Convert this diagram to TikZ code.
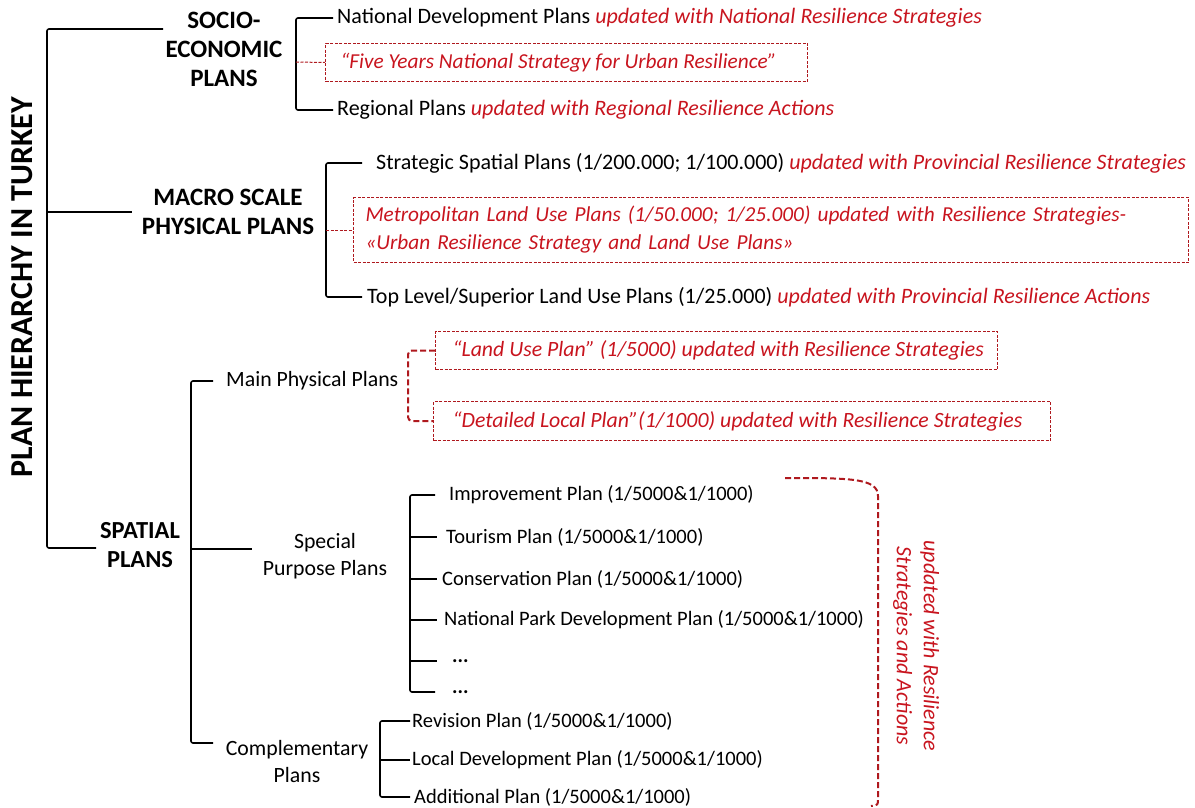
\documentclass[tikz,border=0pt]{standalone}
\usepackage{fontspec}
\setmainfont{Carlito}
\definecolor{rtext}{RGB}{200,20,30}
\definecolor{rline}{RGB}{175,25,30}
\newcommand{\ritx}[1]{{\color{rtext}\itshape #1}}
\begin{document}
\begin{tikzpicture}[x=1pt,y=-1pt,
  txt/.style={anchor=west,inner sep=0pt,font=\fontsize{20.5}{24}\selectfont},
  bigtxt/.style={txt,font=\fontsize{22}{26}\selectfont},
  head/.style={align=center,inner sep=0pt,font=\bfseries\fontsize{25}{29}\selectfont},
  sub/.style={align=center,inner sep=0pt,font=\fontsize{21.8}{27}\selectfont},
  tree/.style={line width=1.6pt,rounded corners=2pt},
  rdash/.style={rline,line width=1pt,dash pattern=on 3pt off 1.5pt},
  rthick/.style={rline,line width=2pt,dash pattern=on 6pt off 3pt,rounded corners=4pt},
  rbox/.style={draw=rline,line width=1pt,dash pattern=on 3pt off 1.5pt,anchor=north west,
    inner xsep=14pt,inner ysep=0pt,text=rtext,
    font=\itshape\fontsize{21.3}{28}\selectfont},
]
\useasboundingbox (0,0) rectangle (1195,808);

% title
\node[rotate=90,inner sep=0pt,font=\bfseries\fontsize{32}{36}\selectfont] (title) at (22,287) {PLAN HIERARCHY IN TURKEY};

% headings
\node[head] (soc) at (224,49) {SOCIO-\\ECONOMIC\\PLANS};
\node[head] (mac) at (228,212) {MACRO SCALE\\PHYSICAL PLANS};
\node[head,font=\bfseries\fontsize{24.5}{29}\selectfont] (spa) at (140,545) {SPATIAL\\PLANS};

% root tree
\coordinate (rt) at (163,29);
\coordinate (rm) at (47,212);
\coordinate (rb) at (96,548);
\coordinate (rmE) at (132,212);
\draw[tree] (rt) -| (rm) |- (rb);
\draw[tree] (rm) -- (rmE);

% socio-economic
\node[bigtxt] (nat) at (337,18) {National Development Plans \ritx{updated with National Resilience Strategies}};
\node[rbox,inner xsep=15pt,minimum height=38pt] (fy) at (325,43) {\makebox[452pt][l]{“Five Years National Strategy for Urban Resilience”}};
\node[bigtxt] (reg) at (337,110) {Regional Plans \ritx{updated with Regional Resilience Actions}};
\coordinate (sbx) at (296,62);
\draw[tree] ([xshift=-4pt]nat.west) -| (sbx) |- ([xshift=-4pt]reg.west);
\draw[rdash] (sbx) -- (fy.west);

% macro scale
\node[bigtxt] (ssp) at (376,163) {Strategic Spatial Plans (1/200.000; 1/100.000) \ritx{updated with Provincial Resilience Strategies}};
\node[rbox,inner xsep=12pt,text width=811pt,align=left,minimum height=65pt] (met) at (353,197) {Metropolitan Land Use Plans (1/50.000; 1/25.000) updated with Resilience Strategies-\\«Urban Resilience Strategy and Land Use Plans»};
\node[bigtxt] (top) at (367,297) {Top Level/Superior Land Use Plans (1/25.000) \ritx{updated with Provincial Resilience Actions}};
\coordinate (mbx) at (326,230);
\draw[tree] ([xshift=-14pt]ssp.west) -| (mbx) |- ([xshift=-5pt]top.west);
\draw[rdash] (mbx) -- (met.west);

% spatial
\node[txt,font=\fontsize{21.8}{24}\selectfont] (mpp) at (226,381) {Main Physical Plans};
\node[sub] (spp) at (325,556) {Special\\Purpose Plans};
\node[sub] (cmp) at (297,762) {Complementary\\Plans};
\coordinate (sv) at (191,549);
\coordinate (svb) at (213,743);
\coordinate (sve) at (252,549);
\draw[tree] ([xshift=-13pt]mpp.west) -| (sv) |- (svb);
\draw[tree] (sv) -- (sve);

% main physical plans boxes
\node[rbox,inner xsep=17pt,minimum height=38pt,font=\itshape\fontsize{21.8}{28}\selectfont] (lup) at (435,331) {\makebox[528pt][l]{“Land Use Plan” (1/5000) updated with Resilience Strategies}};
\node[rbox,inner xsep=19pt,minimum height=39pt,font=\itshape\fontsize{21.8}{28}\selectfont] (dlp) at (433,401) {\makebox[579pt][l]{“Detailed Local Plan”(1/1000) updated with Resilience Strategies}};
\coordinate (mpv) at (408,388);
\draw[rthick] (lup.west) -| (mpv) |- (dlp.west);

% special purpose plans
\node[txt] (imp) at (449,495) {Improvement Plan (1/5000\&1/1000)};
\node[txt] (tou) at (446,537) {Tourism Plan (1/5000\&1/1000)};
\node[txt] (con) at (442,579) {Conservation Plan (1/5000\&1/1000)};
\node[txt] (npk) at (444,620) {National Park Development Plan (1/5000\&1/1000)};
\node[txt] (dt1) at (452,661) {\textbf{...}};
\node[txt] (dt2) at (452,692) {\textbf{...}};
\coordinate (spv) at (410,600);
\draw[tree] ([xshift=-14pt]imp.west) -| (spv) |- ([xshift=-17pt]dt2.west);
\draw[tree] (spv |- tou.west) -- ([xshift=-9pt]tou.west);
\draw[tree] (spv |- con.west) -- ([xshift=-5pt]con.west);
\draw[tree] (spv |- npk.west) -- ([xshift=-7pt]npk.west);
\draw[tree] (spv |- dt1.west) -- ([xshift=-15pt]dt1.west);

% complementary plans
\node[txt] (rev) at (412,721) {Revision Plan (1/5000\&1/1000)};
\node[txt] (loc) at (412,760) {Local Development Plan (1/5000\&1/1000)};
\node[txt] (add) at (414,797) {Additional Plan (1/5000\&1/1000)};
\coordinate (cv) at (380,760);
\draw[tree] ([xshift=-2pt]rev.west) -| (cv) |- ([xshift=-4pt]add.west);
\draw[tree] (cv) -- ([xshift=-2pt]loc.west);

% big red bracket
\coordinate (bt) at (785,478);
\coordinate (bb) at (871,806);
\draw[rline,line width=2pt,dash pattern=on 6pt off 3pt] (bt) .. controls (850,478) and (878,478) .. (878,496) -- (878,799) .. controls (878,805) .. (bb);
\node[rotate=-90,align=center,inner sep=0pt,text=rtext,font=\itshape\fontsize{22}{27}\selectfont] (upd) at (916,646) {updated with Resilience\\Strategies and Actions};
\end{tikzpicture}
\end{document}
